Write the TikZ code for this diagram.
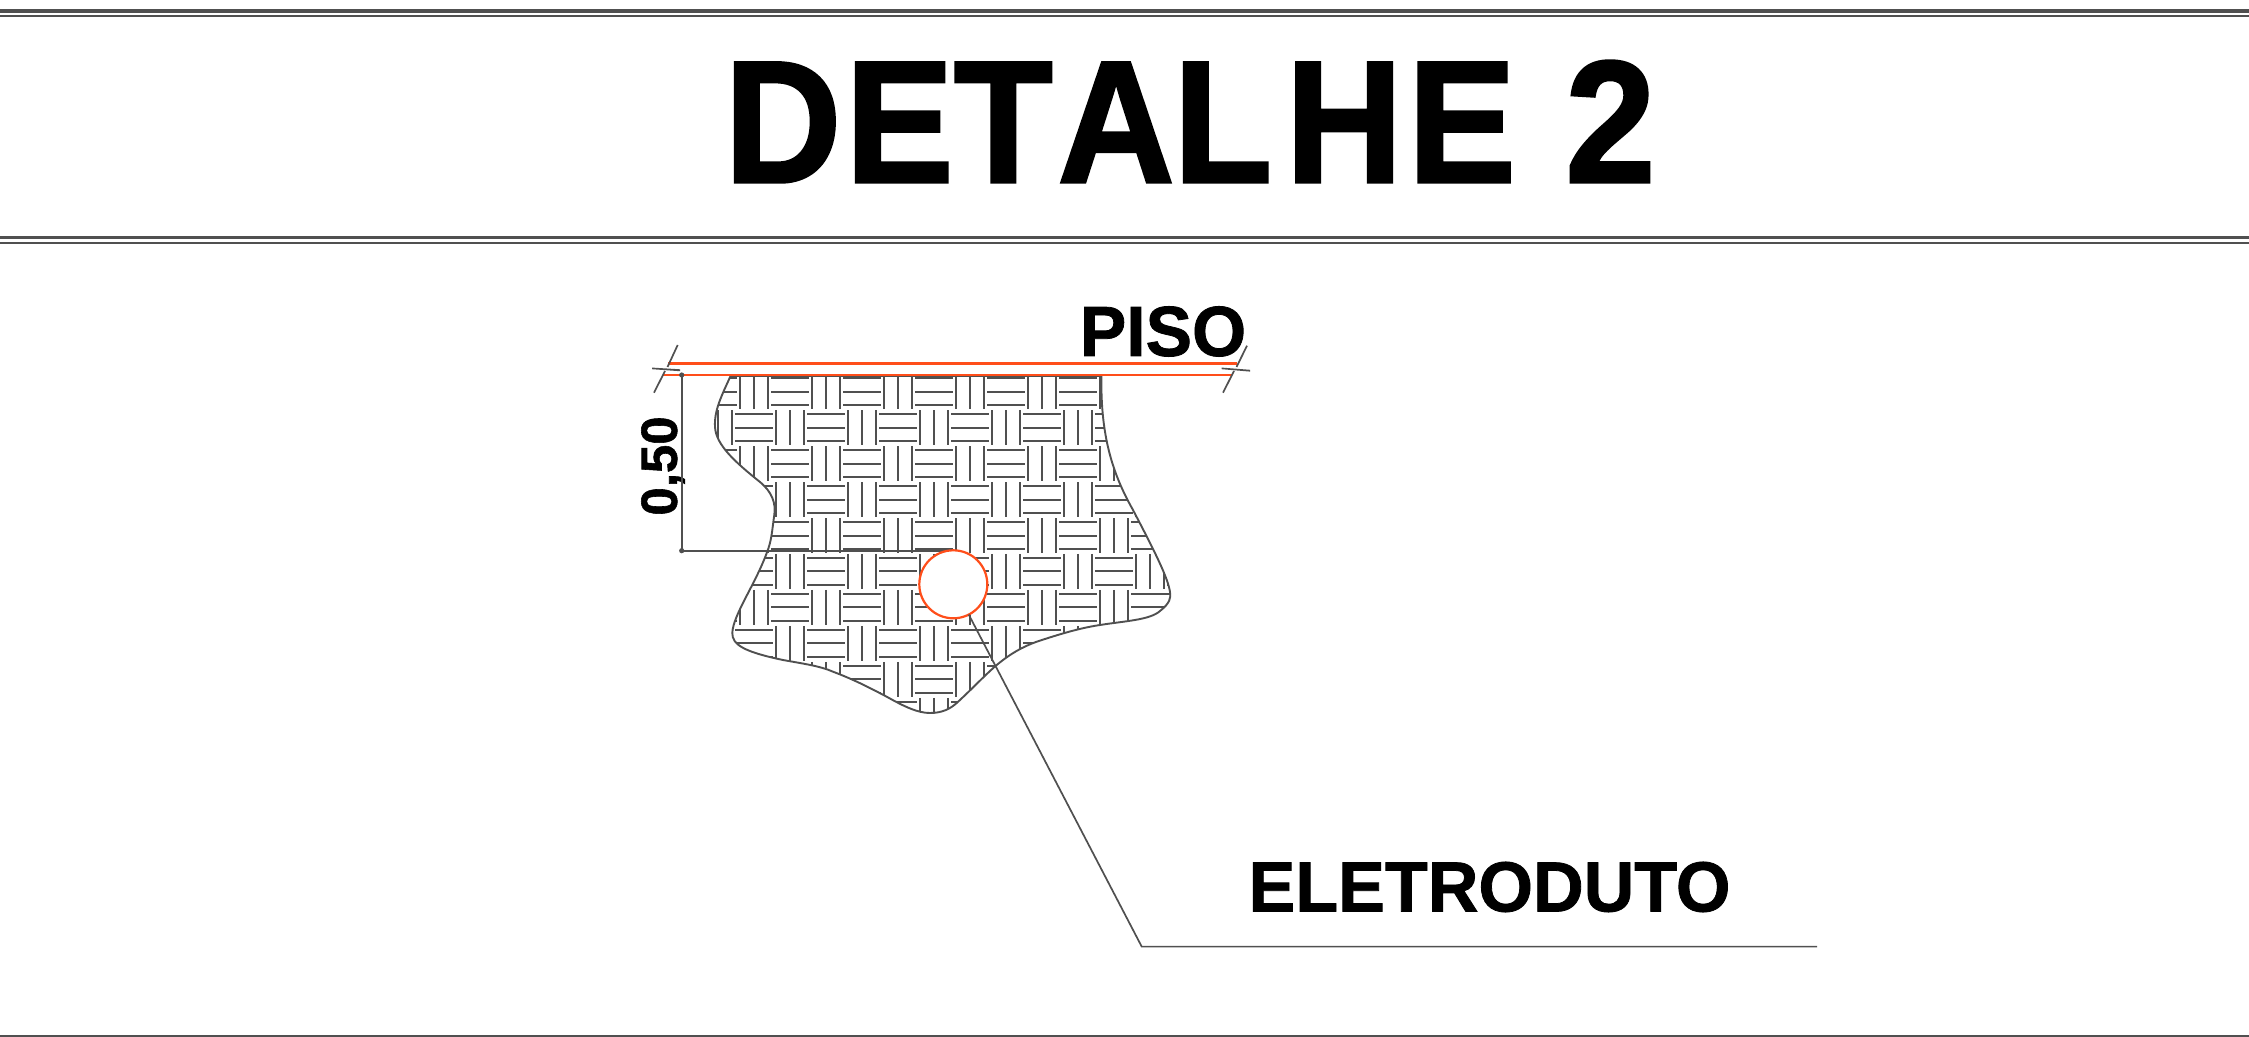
\documentclass[tikz,border=0pt]{standalone}
\usepackage{fontspec}
\setmainfont{Liberation Sans}
\newfontfamily\heavyfam[BoldFeatures={FakeBold=1.7}]{Liberation Sans}
\newfontfamily\mediumfam[BoldFeatures={FakeBold=1.1}]{Liberation Sans}
\newcommand{\heavy}{\heavyfam\bfseries}
\newcommand{\medium}{\mediumfam\bfseries}
\newcommand{\kk}[1]{\kern#1pt\relax}
\definecolor{inkgray}{HTML}{505050}
\definecolor{orangeline}{HTML}{FF4E1A}
\tikzset{
 rule/.style={draw=inkgray,line width=#1},
 hatchline/.style={draw=inkgray,line width=1pt},
 thinline/.style={draw=inkgray,line width=0.85pt},
 redline/.style={draw=orangeline,line width=1.2pt},
 label/.style={inner sep=0pt,outer sep=0pt,text=black}
}
\newcommand{\blobpath}{(731,375) .. controls (722,395) and (714,410) .. (715,427)
  .. controls (716,445) and (735,462) .. (760,482)
  .. controls (772,492) and (776,503) .. (774.3,515)
  .. controls (772,530) and (772,540) .. (766.7,553)
  .. controls (755,585) and (733,615) .. (732.3,633)
  .. controls (732,645) and (745,652) .. (783,660)
  .. controls (805,664) and (820,666) .. (833,671.7)
  .. controls (855,680) and (870,688) .. (886.7,696.7)
  .. controls (905,707) and (918,713) .. (930,713)
  .. controls (942,713) and (950,709) .. (956.7,703)
  .. controls (972,689) and (985,675) .. (996.7,665)
  .. controls (1010,654) and (1022,647) .. (1036.7,641.7)
  .. controls (1060,634) and (1080,628) .. (1100,625)
  .. controls (1125,621) and (1150,620) .. (1160,611)
  .. controls (1170,603) and (1171,598) .. (1170,592)
  .. controls (1168,578) and (1155,552) .. (1133,510)
  .. controls (1115,478) and (1100,440) .. (1101.5,375)}
\begin{document}
\begin{tikzpicture}[x=0.5pt,y=-0.5pt,line cap=butt]
\useasboundingbox (0,0) rectangle (2249,1037);
\fill[white] (0,0) rectangle (2249,1037);
% rules
\draw[rule=1.6pt] (0,11) -- (2249,11);
\draw[rule=1pt] (0,16.3) -- (2249,16.3);
\draw[rule=1.2pt] (0,237.7) -- (2249,237.7);
\draw[rule=1.1pt] (0,243.4) -- (2249,243.4);
\draw[rule=0.7pt] (0,1036) -- (2249,1036);
% title
\node[label,font=\heavy\fontsize{87}{87}\selectfont,xscale=0.93] (title) at (1190,121.5) {D\kk{2.3}E\kk{0.3}T\kk{2.6}A\kk{-0.7}L\kk{7.3}H\kk{2.9}E\kk{2.5} 2};
\node[label,font=\medium\fontsize{35.5}{35.5}\selectfont,xscale=0.98] (piso) at (1163,331.5) {PISO};
\node[label,font=\medium\fontsize{35.5}{35.5}\selectfont,xscale=0.988] (eletro) at (1489.5,887) {ELETRODUTO};
\node[label,font=\medium\fontsize{25.5}{25.5}\selectfont,rotate=90] (cota) at (663,466) {0,50};
% hatch
\begin{scope}
\clip \blobpath -- cycle;
\foreach \i in {-2,...,12}{
 \foreach \r in {0,...,9}{
  \pgfmathsetmacro{\cx}{754+36*\i}
  \pgfmathsetmacro{\cy}{391.7+35.95*\r}
  \pgfmathtruncatemacro{\parity}{mod(\i+\r+100,2)}
  \ifnum\parity=0
   \foreach \d in {-13.6,0,13.6}{
    \draw[hatchline] (\cx+\d,\cy-17.5) -- (\cx+\d,\cy+17.5);}
  \else
   \foreach \d in {-13.6,0,13.6}{
    \draw[hatchline] (\cx-18.8,\cy+\d) -- (\cx+18.8,\cy+\d);}
  \fi
 }}
\end{scope}
\draw[thinline,line width=0.95pt] \blobpath;
% floor lines
\draw[thinline] (731,376.2) -- (1101,376.2);
\draw[redline] (668,363.5) -- (1237,363.5);
\draw[redline] (663,375) -- (1232,375);
% break marks
\draw[thinline] (677.7,345) -- (667.5,367);
\draw[thinline] (665,371) -- (654,392.7);
\fill[inkgray] (652,367.6) -- (680,369.3) -- (680,371.2) -- (652,369.2) -- cycle;
\draw[thinline] (1247,345.7) -- (1236.5,367);
\draw[thinline] (1234,371) -- (1223,392.7);
\fill[inkgray] (1221.7,367.6) -- (1250,369.8) -- (1250,371.6) -- (1221.7,369.2) -- cycle;
% dimension
\coordinate (dimtop) at (681.7,375);
\coordinate (dimbot) at (681.7,550.7);
\coordinate (dimend) at (953,550.7);
\draw[thinline] (dimtop) -- (dimbot) -- (dimend);
\fill[inkgray] (dimtop) circle (1.3pt) (dimbot) circle (1.3pt);
% conduit
\node[circle,draw=orangeline,fill=white,line width=1.1pt,minimum size=34pt,inner sep=0pt,outer sep=0pt] (duto) at (953.3,584.3) {};
% leader
\coordinate (elbow) at (1141.7,946.6);
\coordinate (tail) at (1817,946.6);
\draw[thinline] (duto.-63) -- (elbow) -- (tail);
\end{tikzpicture}
\end{document}
